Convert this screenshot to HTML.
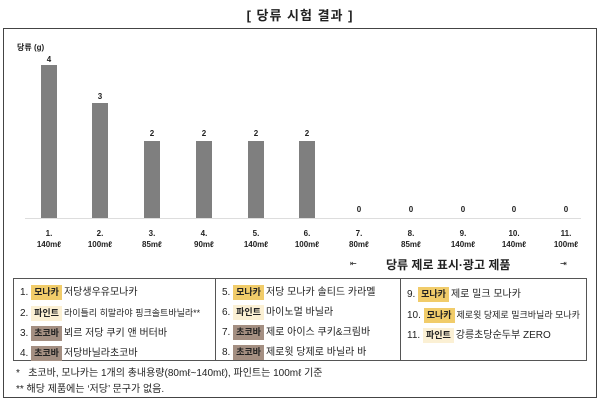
<!DOCTYPE html>
<html><head><meta charset="utf-8"><style>
body{margin:0;width:600px;height:401px;background:#fff;font-family:"Liberation Sans","Noto Sans CJK KR",sans-serif;position:relative;overflow:hidden;color:#222}
.a{position:absolute}
.title{left:0;width:600px;top:5px;text-align:center;font-size:13px;font-weight:bold;letter-spacing:1px}
.frame{left:3px;top:28px;width:592px;height:368px;border:1.5px solid #444}
.bar{position:absolute;width:16px;background:#7f7f7f}
.v{position:absolute;width:30px;text-align:center;font-size:8px;font-weight:bold}
.x{position:absolute;width:40px;text-align:center;font-size:8px;font-weight:bold;line-height:11px}
.tbl{left:13px;top:278px;width:572px;height:81px;border:1px solid #555;display:flex}
.col{border-right:1px solid #555;padding:4px 0 0 6px;font-size:10px;line-height:20px;box-sizing:border-box}
.col:last-child{border-right:none}
.b{display:inline-block;padding:0 3px;font-size:9px;line-height:15px;margin-right:2px;font-weight:bold}
.m{background:#f1cc6a}.p{background:#fbf0d4}.c{background:#a48f82}
.fn{left:16px;font-size:10px}
</style></head><body>
<div class="a title">[ 당류 시험 결과 ]</div>
<div class="a frame"></div>
<div class="a" style="left:17px;top:42px;font-size:8px;font-weight:bold">당류 (g)</div>
<div class="a" style="left:25px;top:218px;width:556px;height:1px;background:#ddd"></div>
<div class="bar" style="left:41px;top:65px;height:153px"></div><div class="v" style="left:34px;top:55px">4</div>
<div class="bar" style="left:92px;top:103px;height:115px"></div><div class="v" style="left:85px;top:92px">3</div>
<div class="bar" style="left:144px;top:141px;height:77px"></div><div class="v" style="left:137px;top:129px">2</div>
<div class="bar" style="left:196px;top:141px;height:77px"></div><div class="v" style="left:189px;top:129px">2</div>
<div class="bar" style="left:248px;top:141px;height:77px"></div><div class="v" style="left:241px;top:129px">2</div>
<div class="bar" style="left:299px;top:141px;height:77px"></div><div class="v" style="left:292px;top:129px">2</div>
<div class="v" style="left:344px;top:205px">0</div>
<div class="v" style="left:396px;top:205px">0</div>
<div class="v" style="left:448px;top:205px">0</div>
<div class="v" style="left:499px;top:205px">0</div>
<div class="v" style="left:551px;top:205px">0</div>
<div class="x" style="left:29px;top:228px">1.<br>140mℓ</div>
<div class="x" style="left:80px;top:228px">2.<br>100mℓ</div>
<div class="x" style="left:132px;top:228px">3.<br>85mℓ</div>
<div class="x" style="left:184px;top:228px">4.<br>90mℓ</div>
<div class="x" style="left:236px;top:228px">5.<br>140mℓ</div>
<div class="x" style="left:287px;top:228px">6.<br>100mℓ</div>
<div class="x" style="left:339px;top:228px">7.<br>80mℓ</div>
<div class="x" style="left:391px;top:228px">8.<br>85mℓ</div>
<div class="x" style="left:443px;top:228px">9.<br>140mℓ</div>
<div class="x" style="left:494px;top:228px">10.<br>140mℓ</div>
<div class="x" style="left:546px;top:228px">11.<br>100mℓ</div>
<div class="a" style="left:350px;top:259px;font-size:8px">⇤</div>
<div class="a" style="left:386px;top:256px;font-size:12px;font-weight:bold">당류 제로 표시·광고 제품</div>
<div class="a" style="left:560px;top:259px;font-size:8px">⇥</div>
<div class="a tbl">
<div class="col" style="width:202px">1. <span class="b m">모나카</span>저당생우유모나카<br>2. <span class="b p">파인트</span><span style="font-size:9px">라이틀리 히말라야 핑크솔트바닐라**</span><br>3. <span class="b c">초코바</span>뵈르 저당 쿠키 앤 버터바<br>4. <span class="b c">초코바</span>저당바닐라초코바</div>
<div class="col" style="width:185px">5. <span class="b m">모나카</span>저당 모나카 솔티드 카라멜<br>6. <span class="b p">파인트</span>마이노멀 바닐라<br>7. <span class="b c">초코바</span>제로 아이스 쿠키&amp;크림바<br>8. <span class="b c">초코바</span>제로윗 당제로 바닐라 바</div>
<div class="col" style="width:185px;padding-top:6px">9. <span class="b m">모나카</span>제로 밀크 모나카<br>10. <span class="b m">모나카</span><span style="font-size:9px">제로윗 당제로 밀크바닐라 모나카</span><br>11. <span class="b p">파인트</span>강릉초당순두부 ZERO</div>
</div>
<div class="a fn" style="top:364px">*&nbsp;&nbsp; 초코바, 모나카는 1개의 총내용량(80mℓ~140mℓ), 파인트는 100mℓ 기준</div>
<div class="a fn" style="top:380px">** 해당 제품에는 ‘저당’ 문구가 없음.</div>
</body></html>
